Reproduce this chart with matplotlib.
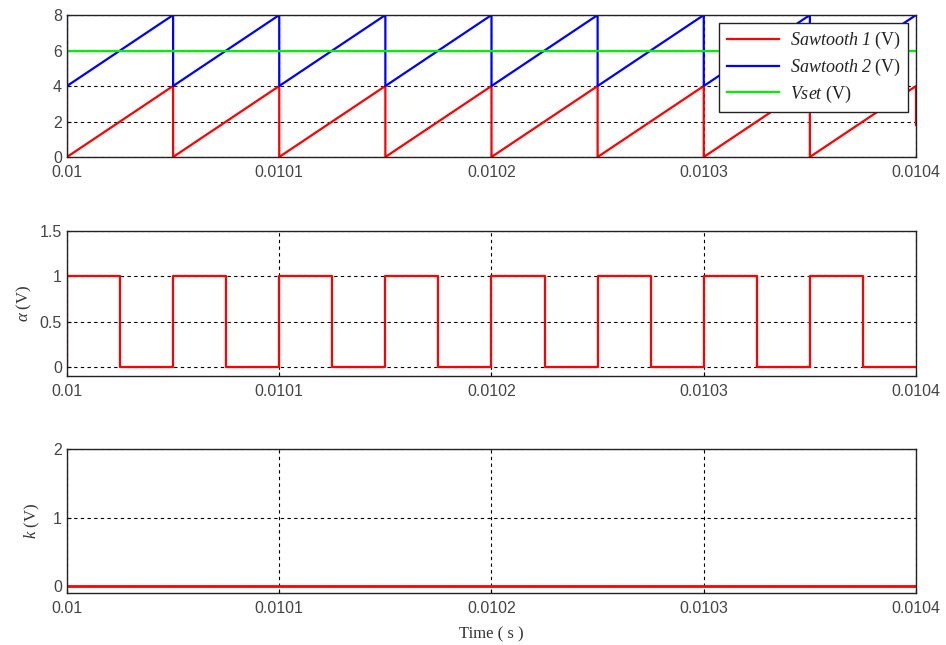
import numpy as np
import matplotlib
matplotlib.use("Agg")
import matplotlib.pyplot as plt

# reset instants of the carriers (period 50 us)
resets = [0.01, 0.01005, 0.0101, 0.01015, 0.0102, 0.01025, 0.0103, 0.01035, 0.0104]
saw1_low, saw1_high = 0.0, 4.0
saw2_low, saw2_high = 4.0, 8.0
vset = 6.0
saw1_end = 1.8   # partial drop seen at the right edge

# alpha switching instants and levels
alpha_t = [0.01, 0.01, 0.010025, 0.010025, 0.01005, 0.01005, 0.010075, 0.010075,
           0.0101, 0.0101, 0.010125, 0.010125, 0.01015, 0.01015, 0.010175, 0.010175,
           0.0102, 0.0102, 0.010225, 0.010225, 0.01025, 0.01025, 0.010275, 0.010275,
           0.0103, 0.0103, 0.010325, 0.010325, 0.01035, 0.01035, 0.010375, 0.010375,
           0.0104]
alpha_v = [0, 1, 1, 0, 0, 1, 1, 0,
           0, 1, 1, 0, 0, 1, 1, 0,
           0, 1, 1, 0, 0, 1, 1, 0,
           0, 1, 1, 0, 0, 1, 1, 0,
           0]

k_t = [0.01, 0.0104]
k_v = [0, 0]

xticks = [0.01, 0.0101, 0.0102, 0.0103, 0.0104]
xticklabels = ["0.01", "0.0101", "0.0102", "0.0103", "0.0104"]
legend_names = ["Sawtooth 1", "Sawtooth 2", "Vset"]


def sawtooth(low, high, end_val):
    t, v = [resets[0]], [high]
    for a, b in zip(resets[:-1], resets[1:]):
        t += [a, b]
        v += [low, high]
    t.append(resets[-1])
    v.append(end_val)
    return t, v


plt.rcParams["font.family"] = ["Liberation Sans", "DejaVu Sans"]
plt.rcParams["mathtext.fontset"] = "custom"
plt.rcParams["mathtext.it"] = "Liberation Serif:italic"
plt.rcParams["mathtext.rm"] = "Liberation Serif:italic"
tick_col = "#444444"

fig = plt.figure(figsize=(9.46, 6.45), dpi=100)
ax1 = fig.add_axes([0.0708, 0.7566, 0.8975, 0.2201])
ax2 = fig.add_axes([0.0708, 0.4171, 0.8975, 0.2248])
ax3 = fig.add_axes([0.0708, 0.0806, 0.8975, 0.2233])

t1, v1 = sawtooth(saw1_low, saw1_high, saw1_end)
t2, v2 = sawtooth(saw2_low, saw2_high, saw2_high)
ax1.plot(t1, v1, color="#ff0000", lw=1.6, label=legend_names[0])
ax1.plot(t2, v2, color="#0000ff", lw=1.6, label=legend_names[1])
ax1.plot([resets[0], resets[-1]], [vset, vset], color="#00ee00", lw=1.6, label=legend_names[2])
ax1.set_ylim(0, 8)
ax1.set_yticks([0, 2, 4, 6, 8])

ax2.plot(alpha_t, alpha_v, color="#ff0000", lw=1.6)
ax2.set_ylim(-0.1, 1.5)
ax2.set_yticks([0, 0.5, 1, 1.5])
ax2.set_yticklabels(["0", "0.5", "1", "1.5"])

ax3.plot(k_t, k_v, color="#ff0000", lw=2.0)
ax3.set_ylim(-0.1, 2)
ax3.set_yticks([0, 1, 2])

for ax in (ax1, ax2, ax3):
    ax.set_xlim(0.01, 0.0104)
    ax.set_xticks(xticks)
    ax.set_xticklabels(xticklabels)
    ax.grid(True, color="black", ls=(0, (3, 3)), lw=0.8)
    ax.tick_params(direction="in", length=3, labelsize=11.5, labelcolor=tick_col,
                   top=False, right=False)
    ax.tick_params(axis="x", pad=6)
    for s in ax.spines.values():
        s.set_color("#222222")
        s.set_linewidth(1.0)

ax2.set_ylabel(r"$\alpha$ (V)", family="Liberation Serif", fontsize=12, color="#333333", labelpad=4)
ax3.set_ylabel(r"$k$ (V)", family="Liberation Serif", fontsize=12, color="#333333", labelpad=8)
ax3.set_xlabel("Time ( s )", family="Liberation Serif", fontsize=12, color="#333333", labelpad=7)

leg = ax1.legend(loc="upper right", bbox_to_anchor=(0.9906, 0.943), frameon=True, fancybox=False,
                 edgecolor="#222222", framealpha=1, handlelength=2.9, borderpad=0.4,
                 labelspacing=0.3, handletextpad=0.6, borderaxespad=0, prop={"size": 13})
leg.get_frame().set_linewidth(1.0)
for txt, name in zip(leg.get_texts(), legend_names):
    txt.set_text(r"$\mathrm{" + name.replace(" ", r"\ ") + r"}$ (V)")
    txt.set_family("Liberation Serif")
    txt.set_color("#222222")

fig.savefig("out.png", dpi=100)
